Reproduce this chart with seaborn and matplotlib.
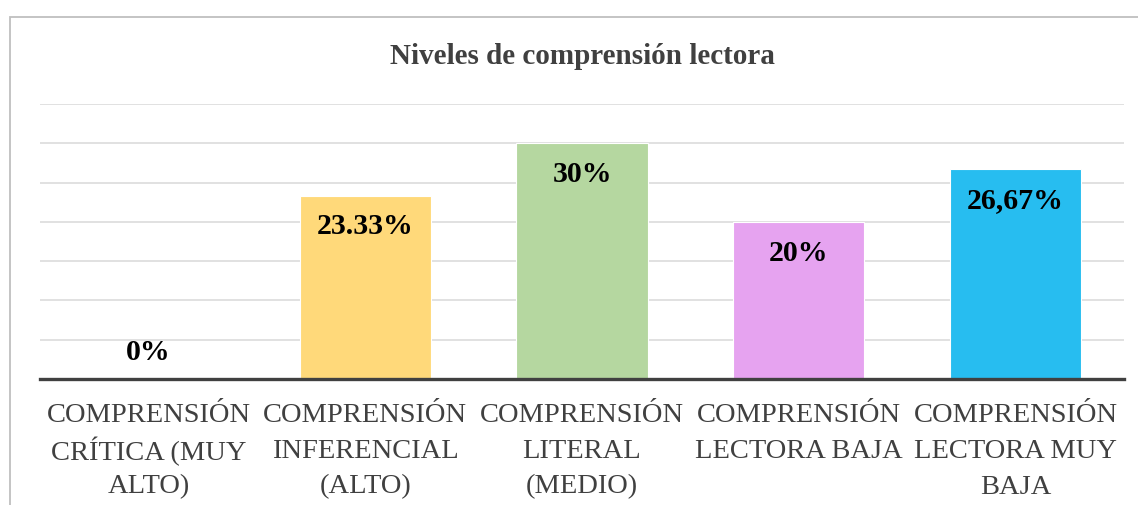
import matplotlib
matplotlib.use("Agg")
import matplotlib.pyplot as plt
import seaborn as sns
import pandas as pd
from matplotlib.patches import Rectangle
from matplotlib.transforms import blended_transform_factory

# datos
categorias = ["COMPRENSIÓN\nCRÍTICA (MUY\nALTO)",
              "COMPRENSIÓN\nINFERENCIAL\n(ALTO)",
              "COMPRENSIÓN\nLITERAL\n(MEDIO)",
              "COMPRENSIÓN\nLECTORA BAJA",
              "COMPRENSIÓN\nLECTORA MUY\nBAJA"]
porcentajes = [0, 23.33, 30, 20, 26.67]
etiquetas = ["0%", "23.33%", "30%", "20%", "26,67%"]
colores = ["#FFD97A", "#FFD97A", "#B5D7A0", "#E6A3F0", "#27BDF0"]

sns.set_style("white")
plt.rcParams["font.family"] = ["Liberation Serif", "DejaVu Serif"]

df = pd.DataFrame({"categoria": categorias, "porcentaje": porcentajes})

fig = plt.figure(figsize=(11.38, 5.05), dpi=100)
ax = fig.add_axes([40 / 1138, 1 - 379 / 505, 1084 / 1138, 275 / 505])

sns.barplot(data=df, x="categoria", y="porcentaje", hue="categoria",
            palette=colores, saturation=1, width=0.605, legend=False, ax=ax,
            edgecolor="white", linewidth=0.8, zorder=3)

ax.set_ylim(0, 35)
ax.set_yticks(range(0, 36, 5))
ax.yaxis.grid(True, color="#D9D9D9", linewidth=1.1, zorder=0)
ax.set_axisbelow(True)
ax.tick_params(axis="y", left=False, labelleft=False)
ax.tick_params(axis="x", bottom=False, labelbottom=False)
for s in ["top", "right", "left"]:
    ax.spines[s].set_visible(False)
ax.spines["bottom"].set_color("#404040")
ax.spines["bottom"].set_linewidth(2.4)
ax.spines["bottom"].set_zorder(5)
ax.set_xlabel("")
ax.set_ylabel("")

# etiquetas del eje x, línea por línea para un interlineado regular
trans = blended_transform_factory(ax.transData, fig.transFigure)
for i, cat in enumerate(categorias):
    for j, linea in enumerate(cat.split("\n")):
        y_px = 416 + 35.5 * j
        ax.text(i, 1 - y_px / 505, linea, transform=trans, ha="center",
                va="center", fontsize=20.5, color="#404040",
                family=["Liberation Serif", "DejaVu Serif"])

for i, (v, t) in enumerate(zip(porcentajes, etiquetas)):
    off = -22.5 if v > 0 else 19
    ax.annotate(t, (i, v), xytext=(0, off), textcoords="offset points",
                ha="center", va="center", fontsize=21.5, fontweight="bold",
                color="black", zorder=6)

fig.text(582 / 1138, 1 - 57 / 505, "Niveles de comprensión lectora",
         ha="center", va="center", fontsize=21, fontweight="bold", color="#404040")

fig.patches.append(Rectangle((10 / 1138, -0.1), 1.2, 1 - 17 / 505 + 0.1,
                             transform=fig.transFigure, fill=False,
                             edgecolor="#BFBFBF", linewidth=1.3))

fig.savefig("out.png", dpi=100)
